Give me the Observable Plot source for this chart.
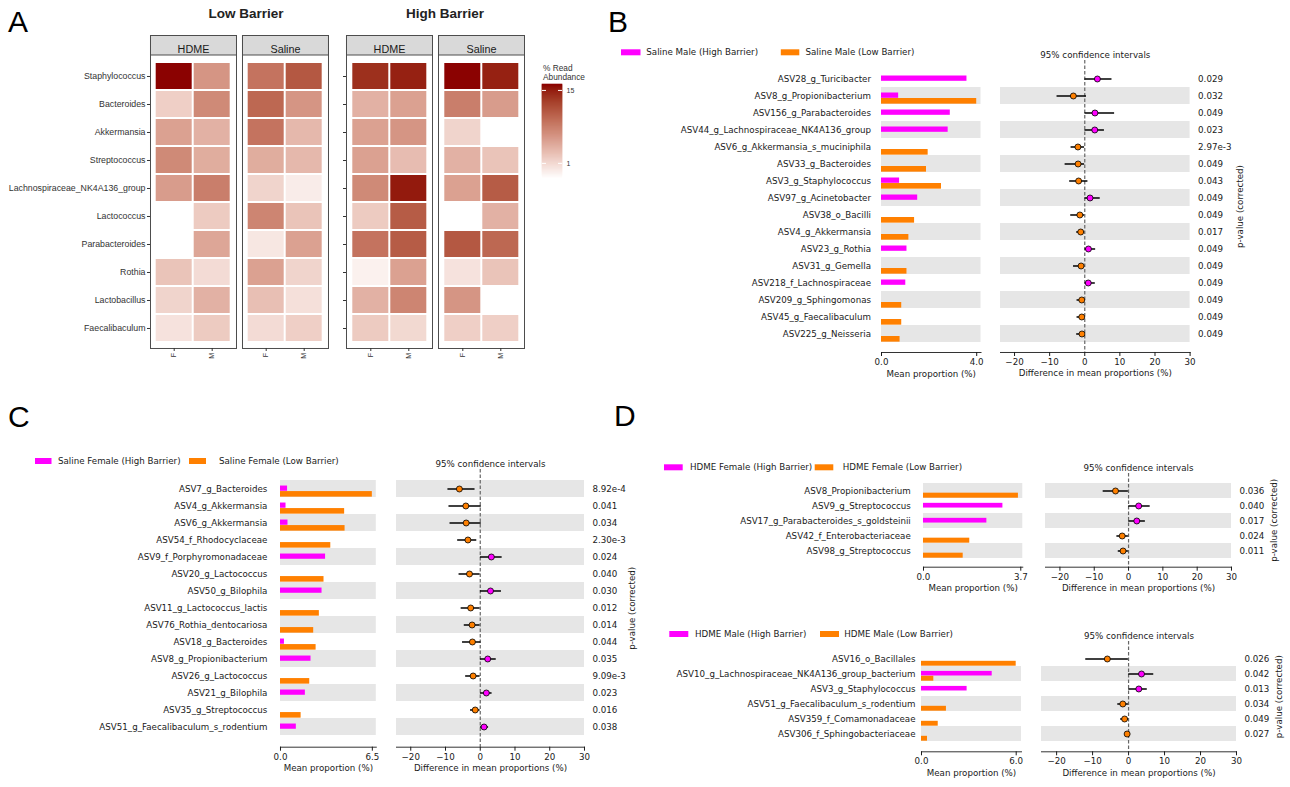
<!DOCTYPE html>
<html><head><meta charset="utf-8">
<script src="https://cdn.jsdelivr.net/npm/d3@7"></script>
<script src="https://cdn.jsdelivr.net/npm/@observablehq/plot@0.6"></script>
<style>
html,body{margin:0;padding:0;background:#fff;}
#page{position:relative;width:1290px;height:787px;overflow:hidden;background:#fff;}
#page svg{max-width:none;overflow:visible;}
.abs{position:absolute;}
</style>
</head><body>
<div id="page"></div>
<script>
// ---------------- DATA ----------------
// Panel A: % read abundance heatmap
const genera = ["Staphylococcus","Bacteroides","Akkermansia","Streptococcus","Lachnospiraceae_NK4A136_group","Lactococcus","Parabacteroides","Rothia","Lactobacillus","Faecalibaculum"];
const treatments = ["HDME","Saline"];
const sexes = ["F","M"];
const low_HDME_F    = [18.5, 1.15, 2.3, 3.27, 2.47, null, null, 1.36, 1.07, 0.87];
const low_HDME_M    = [2.74, 3.27, 1.8, 1.93, 3.9, 1.23, 2.14, 0.96, 1.8, 1.23];
const low_Saline_F  = [4.6, 5.5, 4.6, 1.93, 1.07, 3.5, 0.81, 2.3, 1.46, 0.96];
const low_Saline_M  = [7.0, 2.74, 1.62, 1.62, 0.75, 1.36, 2.3, 1.07, 0.9, 1.15];
const high_HDME_F   = [12.3, 1.8, 2.3, 2.3, 3.27, 1.23, 4.6, 0.70, 1.8, 1.23];
const high_HDME_M   = [14.6, 2.3, 2.74, 1.52, 15.7, 6.6, 6.6, 2.3, 3.5, 1.0];
const high_Saline_F = [18.5, 3.9, 1.07, 1.8, 2.3, null, 7.0, 0.87, 2.74, 1.15];
const high_Saline_M = [14.6, 2.47, null, 1.36, 6.6, 1.8, 5.5, 1.36, null, 1.15];
const abundanceLimits = [0.57, 18.7];
const abundanceBreaks = [1, 15];

// Panel B: Saline Male (High vs Low barrier)
const bNames = ["ASV28_g_Turicibacter","ASV8_g_Propionibacterium","ASV156_g_Parabacteroides","ASV44_g_Lachnospiraceae_NK4A136_group","ASV6_g_Akkermansia_s_muciniphila","ASV33_g_Bacteroides","ASV3_g_Staphylococcus","ASV97_g_Acinetobacter","ASV38_o_Bacilli","ASV4_g_Akkermansia","ASV23_g_Rothia","ASV31_g_Gemella","ASV218_f_Lachnospiraceae","ASV209_g_Sphingomonas","ASV45_g_Faecalibaculum","ASV225_g_Neisseria"];
const bHigh = [3.59, 0.72, 2.89, 2.80, 0, 0, 0.76, 1.52, 0, 0, 1.07, 0, 1.02, 0, 0, 0];
const bLow  = [0, 4.0, 0, 0, 1.96, 1.89, 2.52, 0, 1.39, 1.15, 0, 1.07, 0, 0.85, 0.85, 0.78];
const bDiff = [3.6, -3.25, 2.9, 2.85, -1.95, -1.9, -1.75, 1.5, -1.4, -1.15, 1.05, -1.05, 1.0, -0.85, -0.85, -0.8];
const bLo   = [0.05, -7.9, 0.05, 0.05, -3.9, -5.6, -4.3, 0.05, -4.0, -2.3, 0.05, -3.2, 0.05, -2.2, -2.2, -2.3];
const bHi   = [7.75, 0.5, 8.5, 5.6, -0.05, -0.05, 0.9, 4.4, -0.05, -0.05, 3.1, -0.05, 3.0, -0.05, -0.05, -0.05];
const bP    = ["0.029","0.032","0.049","0.023","2.97e-3","0.049","0.043","0.049","0.049","0.017","0.049","0.049","0.049","0.049","0.049","0.049"];

// Panel C: Saline Female (High vs Low barrier)
const cNames = ["ASV7_g_Bacteroides","ASV4_g_Akkermansia","ASV6_g_Akkermansia","ASV54_f_Rhodocyclaceae","ASV9_f_Porphyromonadaceae","ASV20_g_Lactococcus","ASV50_g_Bilophila","ASV11_g_Lactococcus_lactis","ASV76_Rothia_dentocariosa","ASV18_g_Bacteroides","ASV8_g_Propionibacterium","ASV26_g_Lactococcus","ASV21_g_Bilophila","ASV35_g_Streptococcus","ASV51_g_Faecalibaculum_s_rodentium"];
const cHigh = [0.5, 0.39, 0.53, 0, 3.19, 0, 2.94, 0, 0, 0.28, 2.16, 0, 1.76, 0, 1.12];
const cLow  = [6.5, 4.54, 4.57, 3.56, 0, 3.08, 0, 2.75, 2.35, 2.52, 0, 2.07, 0, 1.46, 0];
const cDiff = [-6.0, -4.15, -4.05, -3.55, 3.2, -3.1, 2.95, -2.75, -2.35, -2.25, 2.15, -2.05, 1.75, -1.45, 1.1];
const cLo   = [-9.3, -9.0, -8.7, -6.5, 0.05, -6.1, 0.05, -5.5, -4.6, -5.1, 0.05, -4.2, 0.05, -2.8, 0.05];
const cHi   = [-1.5, 0.3, 0.3, -1.0, 6.3, -0.05, 6.1, -0.05, -0.05, 0.2, 4.6, -0.05, 3.4, -0.05, 2.4];
const cP    = ["8.92e-4","0.041","0.034","2.30e-3","0.024","0.040","0.030","0.012","0.014","0.044","0.035","9.09e-3","0.023","0.016","0.038"];

// Panel D (top): HDME Female
const dfNames = ["ASV8_Propionibacterium","ASV9_g_Streptococcus","ASV17_g_Parabacteroides_s_goldsteinii","ASV42_f_Enterobacteriaceae","ASV98_g_Streptococcus"];
const dfHigh = [0, 3.02, 2.41, 0, 0];
const dfLow  = [3.61, 0, 0, 1.76, 1.51];
const dfDiff = [-3.8, 2.95, 2.4, -1.85, -1.6];
const dfLo   = [-7.4, 0.05, 0.05, -3.4, -3.0];
const dfHi   = [-0.05, 6.3, 4.9, -0.05, -0.05];
const dfP    = ["0.036","0.040","0.017","0.024","0.011"];

// Panel D (bottom): HDME Male
const dmNames = ["ASV16_o_Bacillales","ASV10_g_Lachnospiraceae_NK4A136_group_bacterium","ASV3_g_Staphylococcus","ASV51_g_Faecalibaculum_s_rodentium","ASV359_f_Comamonadaceae","ASV306_f_Sphingobacteriaceae"];
const dmHigh = [0, 4.48, 2.89, 0, 0, 0];
const dmLow  = [6.0, 0.78, 0, 1.58, 1.06, 0.38];
const dmDiff = [-5.9, 3.6, 2.85, -1.6, -1.1, -0.4];
const dmLo   = [-11.9, 0.05, 0.05, -3.0, -2.2, -0.7];
const dmHi   = [-0.05, 7.0, 5.2, -0.05, -0.05, -0.05];
const dmP    = ["0.026","0.042","0.013","0.034","0.049","0.027"];

const ciTicks = [-20, -10, 0, 10, 20, 30];

// ---------------- STYLE ----------------
const MAG = "#ff00ff", ORG = "#ff8000", BAND = "#e6e6e6";
const SFONT = "'DejaVu Sans', sans-serif";
const HFONT = "'Liberation Sans', Arial, sans-serif";
const page = document.getElementById("page");

function place(node, left, top) {
  const div = document.createElement("div");
  div.className = "abs";
  div.style.left = left + "px";
  div.style.top = top + "px";
  div.appendChild(node);
  page.appendChild(div);
  return div;
}

const colorOpts = {type: "log", domain: abundanceLimits, range: ["#ffffff", "#8b0000"], interpolate: d3.interpolateLab};

// ---------------- PANEL A ----------------
function heatRecords(cols) {
  const out = [];
  treatments.forEach(t => sexes.forEach(s => {
    cols[t + s].forEach((v, i) => { if (v != null) out.push({treatment: t, sex: s, genus: genera[i], value: v}); });
  }));
  return out;
}
const FH = 313, STRIP = 19.5;
function heatmap(cols, L) {
  return Plot.plot({
    width: L.mL + L.fw + 2, height: FH + 22,
    marginLeft: L.mL, marginRight: 2, marginTop: 0, marginBottom: 22,
    style: {fontFamily: HFONT, fontSize: "8.8px", color: "#333", background: "transparent"},
    fx: {domain: treatments, paddingInner: L.pad, paddingOuter: 0, axis: null, label: null},
    x: {domain: sexes, paddingInner: 0, paddingOuter: 0.13, label: null},
    y: {domain: genera, paddingInner: 0, paddingOuter: 0, insetTop: STRIP + 3.5, insetBottom: 2.5, label: null},
    color: colorOpts,
    marks: [
      Plot.frame({fill: "#d9d9d9", stroke: "#4d4d4d", insetBottom: FH - STRIP}),
      Plot.cell(heatRecords(cols), {fx: "treatment", x: "sex", y: "genus", fill: "value", inset: 1}),
      Plot.frame({stroke: "#4d4d4d"}),
      Plot.text(treatments, {fx: d => d, text: d => d, frameAnchor: "top", dy: STRIP / 2, fontSize: 10.8, fill: "#1a1a1a"}),
      Plot.axisX({tickRotate: -90, tickSize: 3, tickPadding: 1.5, fontSize: 7, label: null}),
      Plot.axisY({tickSize: 3, tickPadding: 2, label: null, tickFormat: L.labels ? (d => d) : (() => "")})
    ]
  });
}
place(heatmap({HDMEF: low_HDME_F, HDMEM: low_HDME_M, SalineF: low_Saline_F, SalineM: low_Saline_M},
  {mL: 149.3, fw: 179, pad: 0.063, labels: true}), 0, 35);
place(heatmap({HDMEF: high_HDME_F, HDMEM: high_HDME_M, SalineF: high_Saline_F, SalineM: high_Saline_M},
  {mL: 15.7, fw: 179.3, pad: 0.065, labels: false}), 330, 35);

// colour bar legend
(function(){
  const [lo, hi] = abundanceLimits, N = 94;
  const ramp = d3.range(N).map(i => ({a: lo * (hi/lo) ** (i/N), b: lo * (hi/lo) ** ((i+1)/N), m: lo * (hi/lo) ** ((i+0.5)/N)}));
  const leg = Plot.plot({
    width: 50, height: 94, marginLeft: 0, marginRight: 30, marginTop: 0, marginBottom: 0,
    style: {fontFamily: HFONT, fontSize: "7px", color: "#333", background: "transparent"},
    x: {domain: [0, 1], axis: null},
    y: {type: "log", domain: abundanceLimits, axis: null},
    color: colorOpts,
    marks: [
      Plot.rect(ramp, {x1: 0, x2: 1, y1: "a", y2: "b", fill: "m", stroke: "m", strokeWidth: 0.6}),
      Plot.tickY(abundanceBreaks, {y: d => d, stroke: "white", insetRight: 16}),
      Plot.tickY(abundanceBreaks, {y: d => d, stroke: "white", insetLeft: 16}),
      Plot.text(abundanceBreaks, {x: 1, y: d => d, text: d => String(d), dx: 4, textAnchor: "start", fill: "#333"})
    ]
  });
  place(leg, 542, 84);
})();

// ---------------- STAMP PANELS ----------------
function stamp(d, L) {
  const n = d.names.length, s = L.step;
  const rows = d.names.map((name, i) => ({name, high: d.high[i], low: d.low[i], diff: d.diff[i], lo: d.lo[i], hi: d.hi[i], p: d.p[i], band: (n - 1 - i) % 2 === 0}));
  const bands = rows.filter(r => r.band);
  const mT = 16, mB = 32;
  const H = mT + (L.axisY - L.dashTop) + mB;
  const yOpt = {domain: d.names, paddingInner: 0, paddingOuter: 0, insetTop: L.rowsTop - L.dashTop, insetBottom: L.axisY - (L.rowsTop + n * s), axis: null};
  const style = {fontFamily: SFONT, fontSize: "8.7px", color: "#1a1a1a", background: "transparent"};
  const mL = 300;
  const bar = Plot.plot({
    width: mL + (L.barR - L.barL) + 4, height: H,
    marginLeft: mL, marginRight: 4, marginTop: mT, marginBottom: mB,
    style,
    x: {domain: [0, L.barMax]},
    y: yOpt,
    marks: [
      Plot.cell(bands, {y: "name", fill: BAND}),
      Plot.barX(rows.filter(r => r.high > 0), {x: "high", y: "name", fill: MAG, insetTop: 0.32 * s, insetBottom: 0.36 * s}),
      Plot.barX(rows.filter(r => r.low > 0), {x: "low", y: "name", fill: ORG, insetTop: 0.64 * s, insetBottom: 0.02 * s}),
      Plot.text(rows, {y: "name", text: "name", frameAnchor: "left", dx: -(L.barL - L.labelRight), textAnchor: "end", fill: "#1a1a1a"}),
      Plot.frame({anchor: "bottom", stroke: "#333"}),
      Plot.axisX({ticks: [0, L.barTick], tickFormat: d3.format(".1f"), tickSize: 4, tickPadding: 2.5, label: null}),
      Plot.text(["Mean proportion (%)"], {frameAnchor: "bottom", dy: 24, text: t => t, fill: "#1a1a1a"})
    ]
  });
  place(bar, L.barL - mL, L.dashTop - mT);
  const mR = 60;
  const ci = Plot.plot({
    width: (L.ciR - L.ciL) + mR, height: H,
    marginLeft: 0, marginRight: mR, marginTop: mT, marginBottom: mB,
    style,
    x: {domain: L.ciDomain},
    y: yOpt,
    marks: [
      Plot.cell(bands, {y: "name", fill: BAND}),
      Plot.ruleX([0], {stroke: "#666", strokeWidth: 1.2, strokeDasharray: "3.5,2"}),
      Plot.ruleY(rows, {y: "name", x1: "lo", x2: "hi", stroke: "black", strokeWidth: 1.5}),
      Plot.dot(rows.filter(r => r.diff > 0), {x: "diff", y: "name", r: 3, fill: MAG, stroke: "black", strokeWidth: 0.8}),
      Plot.dot(rows.filter(r => r.diff < 0), {x: "diff", y: "name", r: 3, fill: ORG, stroke: "black", strokeWidth: 0.8}),
      Plot.frame({anchor: "bottom", stroke: "#333"}),
      Plot.axisX({ticks: ciTicks, tickFormat: v => v < 0 ? "\u2212" + (-v) : String(v), tickSize: 4, tickPadding: 2.5, label: null}),
      Plot.text(["Difference in mean proportions (%)"], {frameAnchor: "bottom", dy: 24, text: t => t, fill: "#1a1a1a"}),
      Plot.text(["95% confidence intervals"], {frameAnchor: "top", dy: -9, text: t => t, fill: "#1a1a1a"}),
      Plot.text(rows, {y: "name", text: "p", frameAnchor: "right", dx: L.pX - L.ciR, textAnchor: "start", fill: "#1a1a1a"}),
      Plot.text(["p-value (corrected)"], {frameAnchor: "right", dx: L.pLabelX - L.ciR, textAnchor: "middle", rotate: -90, text: t => t, fill: "#1a1a1a"})
    ]
  });
  place(ci, L.ciL, L.dashTop - mT);
}

stamp({names: bNames, high: bHigh, low: bLow, diff: bDiff, lo: bLo, hi: bHi, p: bP},
  {rowsTop: 68.8, step: 17.2, dashTop: 60, axisY: 352, labelRight: 870, barL: 880.5, barR: 980, barMax: 4.18, barTick: 4.0,
   ciL: 1000, ciR: 1189.6, ciDomain: [-24.0, 30], pX: 1197.6, pLabelX: 1240});
stamp({names: cNames, high: cHigh, low: cLow, diff: cDiff, lo: cLo, hi: cHi, p: cP},
  {rowsTop: 477.7, step: 17.3, dashTop: 469, axisY: 746.7, labelRight: 267.3, barL: 280.4, barR: 376.2, barMax: 6.78, barTick: 6.5,
   ciL: 396, ciR: 584, ciDomain: [-24.1, 30], pX: 592, pLabelX: 632});
stamp({names: dfNames, high: dfHigh, low: dfLow, diff: dfDiff, lo: dfLo, hi: dfHi, p: dfP},
  {rowsTop: 482.7, step: 15.12, dashTop: 473, axisY: 566.7, labelRight: 910, barL: 922.7, barR: 1022, barMax: 3.776, barTick: 3.7,
   ciL: 1045, ciR: 1231, ciDomain: [-24.2, 30], pX: 1239, pLabelX: 1273.5});
stamp({names: dmNames, high: dmHigh, low: dmLow, diff: dmDiff, lo: dmLo, hi: dmHi, p: dmP},
  {rowsTop: 650, step: 15.33, dashTop: 641, axisY: 751.3, labelRight: 915, barL: 921, barR: 1021, barMax: 6.336, barTick: 6.0,
   ciL: 1041, ciR: 1236, ciDomain: [-24.2, 30], pX: 1244, pLabelX: 1279});

// ---------------- OVERLAY TEXT (titles, legends, panel letters) ----------------
const ov = d3.select(page).append("svg").attr("width", 1290).attr("height", 787)
  .style("position", "absolute").style("left", "0px").style("top", "0px").style("pointer-events", "none");
[["A", 8, 31.7], ["B", 608, 31.7], ["C", 8, 427], ["D", 614, 426]].forEach(([t, x, y]) =>
  ov.append("text").attr("x", x).attr("y", y).attr("font-family", HFONT).attr("font-size", 30).attr("fill", "#000").text(t));
[["Low Barrier", 246], ["High Barrier", 445]].forEach(([t, x]) =>
  ov.append("text").attr("x", x).attr("y", 13).attr("text-anchor", "middle").attr("dominant-baseline", "central")
    .attr("font-family", HFONT).attr("font-weight", "bold").attr("font-size", 13.5).attr("fill", "#222").text(t));
[["% Read", 68], ["Abundance", 77]].forEach(([t, y]) =>
  ov.append("text").attr("x", 543).attr("y", y).attr("dominant-baseline", "central")
    .attr("font-family", HFONT).attr("font-size", 8.3).attr("fill", "#333").text(t));

const legends = [
  {y: 52.3, items: [[621, 19.5, MAG, 646.3, "Saline Male (High Barrier)"], [780.8, 18.5, ORG, 805.5, "Saline Male (Low Barrier)"]]},
  {y: 461, items: [[35, 16.5, MAG, 58, "Saline Female (High Barrier)"], [189, 17, ORG, 219, "Saline Female (Low Barrier)"]]},
  {y: 467.3, items: [[664, 18.7, MAG, 690, "HDME Female (High Barrier)"], [814.7, 18.6, ORG, 842.7, "HDME Female (Low Barrier)"]]},
  {y: 634, items: [[669.3, 19, MAG, 695, "HDME Male (High Barrier)"], [820, 19, ORG, 844.3, "HDME Male (Low Barrier)"]]}
];
legends.forEach(lg => lg.items.forEach(([rx, rw, col, tx, label]) => {
  ov.append("rect").attr("x", rx).attr("y", lg.y - 3).attr("width", rw).attr("height", 6).attr("fill", col);
  ov.append("text").attr("x", tx).attr("y", lg.y).attr("dominant-baseline", "central")
    .attr("font-family", SFONT).attr("font-size", 8.7).attr("fill", "#1a1a1a").text(label);
}));
</script>
</body></html>
